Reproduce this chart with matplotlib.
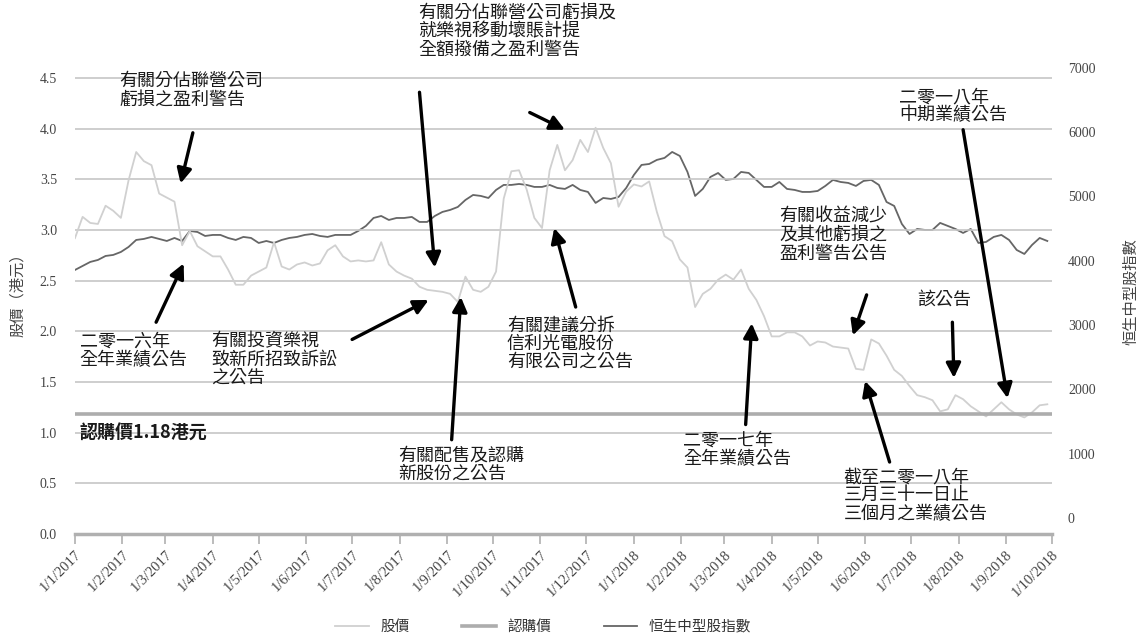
import numpy as np
import pandas as pd
import matplotlib
matplotlib.use("Agg")
import matplotlib.pyplot as plt
from matplotlib.ticker import FormatStrFormatter


plt.rcParams['font.family'] = ['Noto Sans CJK TC', 'DejaVu Sans']

dates = pd.date_range('2017-01-01', periods=128, freq='5D')

# Share price (HK$)
price = [2.92, 3.13, 3.07, 3.06, 3.24, 3.19, 3.12, 3.49, 3.77, 3.68,
         3.64, 3.36, 3.32, 3.28, 2.85, 2.99, 2.84, 2.79, 2.74, 2.74,
         2.61, 2.46, 2.46, 2.55, 2.59, 2.63, 2.88, 2.64, 2.61, 2.66,
         2.68, 2.65, 2.67, 2.80, 2.85, 2.74, 2.69, 2.70, 2.69, 2.70,
         2.88, 2.66, 2.59, 2.55, 2.52, 2.44, 2.41, 2.40, 2.39, 2.37,
         2.29, 2.54, 2.41, 2.39, 2.44, 2.59, 3.31, 3.58, 3.59, 3.40,
         3.12, 3.02, 3.59, 3.84, 3.59, 3.69, 3.89, 3.77, 4.01, 3.81,
         3.66, 3.23, 3.38, 3.45, 3.43, 3.48, 3.18, 2.94, 2.89, 2.71,
         2.63, 2.24, 2.37, 2.42, 2.51, 2.56, 2.51, 2.61, 2.42, 2.31,
         2.15, 1.95, 1.95, 1.99, 1.99, 1.95, 1.86, 1.90, 1.89, 1.85,
         1.84, 1.83, 1.63, 1.62, 1.92, 1.88, 1.76, 1.62, 1.56, 1.46,
         1.37, 1.35, 1.32, 1.21, 1.23, 1.37, 1.33, 1.26, 1.21, 1.16,
         1.23, 1.30, 1.23, 1.18, 1.15, 1.20, 1.27, 1.28]

# Hang Seng Composite MidCap Index
hsmi = [3857, 3920, 3982, 4013, 4075, 4091, 4137, 4215, 4324, 4340,
        4371, 4340, 4308, 4355, 4308, 4464, 4448, 4386, 4402, 4402,
        4355, 4324, 4371, 4355, 4277, 4308, 4277, 4324, 4355, 4371,
        4402, 4417, 4386, 4371, 4402, 4402, 4402, 4464, 4542, 4666,
        4697, 4635, 4666, 4666, 4682, 4604, 4604, 4697, 4760, 4791,
        4837, 4946, 5024, 5009, 4977, 5102, 5180, 5180, 5195, 5180,
        5149, 5149, 5180, 5133, 5118, 5180, 5102, 5071, 4900, 4977,
        4962, 4993, 5133, 5335, 5491, 5506, 5569, 5600, 5693, 5631,
        5382, 5009, 5118, 5304, 5366, 5258, 5273, 5382, 5366, 5258,
        5149, 5149, 5226, 5118, 5102, 5071, 5071, 5086, 5164, 5258,
        5226, 5211, 5164, 5242, 5258, 5180, 4915, 4853, 4573, 4417,
        4495, 4480, 4480, 4589, 4542, 4495, 4433, 4495, 4277, 4293,
        4371, 4402, 4324, 4168, 4106, 4246, 4355, 4308]

subscription_price = 1.18

tick_labels = ['1/1/2017', '1/2/2017', '1/3/2017', '1/4/2017', '1/5/2017',
               '1/6/2017', '1/7/2017', '1/8/2017', '1/9/2017', '1/10/2017',
               '1/11/2017', '1/12/2017', '1/1/2018', '1/2/2018', '1/3/2018',
               '1/4/2018', '1/5/2018', '1/6/2018', '1/7/2018', '1/8/2018',
               '1/9/2018', '1/10/2018']
tick_dates = pd.to_datetime(tick_labels, format='%d/%m/%Y')

# Announcements: text and its top-left anchor (date, price)
notes = [
    ('有關分佔聯營公司\n虧損之盈利警告', '2017-01-30', 4.56),
    ('有關分佔聯營公司虧損及\n就樂視移動壞賬計提\n全額撥備之盈利警告', '2017-08-13', 5.23),
    ('二零一六年\n全年業績公告', '2017-01-04', 1.99),
    ('有關投資樂視\n致新所招致訴訟\n之公告', '2017-03-31', 1.99),
    ('有關配售及認購\n新股份之公告', '2017-07-31', 0.86),
    ('有關建議分拆\n信利光電股份\n有限公司之公告', '2017-10-10', 2.15),
    ('二零一七年\n全年業績公告', '2018-02-02', 1.01),
    ('有關收益減少\n及其他虧損之\n盈利警告公告', '2018-04-06', 3.22),
    ('截至二零一八年\n三月三十一日止\n三個月之業績公告', '2018-05-18', 0.65),
    ('該公告', '2018-07-05', 2.40),
    ('二零一八年\n中期業績公告', '2018-06-23', 4.40),
]
# Arrows: tail (date, price) -> head (date, price)
arrows = [
    ('2017-03-19', 3.96, '2017-03-11', 3.46),
    ('2017-10-25', 4.16, '2017-11-17', 3.99),
    ('2017-08-14', 4.36, '2017-08-24', 2.63),
    ('2017-02-23', 2.09, '2017-03-13', 2.67),
    ('2017-07-01', 1.92, '2017-08-20', 2.31),
    ('2017-09-04', 0.93, '2017-09-10', 2.34),
    ('2017-11-24', 2.24, '2017-11-10', 3.02),
    ('2018-03-15', 1.08, '2018-03-19', 2.08),
    ('2018-06-02', 2.36, '2018-05-24', 1.96),
    ('2018-06-17', 0.71, '2018-06-01', 1.51),
    ('2018-07-28', 2.09, '2018-07-29', 1.54),
    ('2018-08-04', 3.99, '2018-09-02', 1.34),
]


fig = plt.figure(figsize=(11.46, 6.41), dpi=100)
ax = fig.add_axes([0.0654, 0.167, 0.8525, 0.727])
ax2 = ax.twinx()
ax.set_zorder(ax2.get_zorder() + 1)
ax.patch.set_visible(False)

l1, = ax.plot(dates, price, color='#d0d0d0', lw=1.3, label='股價')
l2 = ax.axhline(subscription_price, color='#adadad', lw=2.6, label='認購價')
l3, = ax2.plot(dates, hsmi, color='#666666', lw=1.3, label='恒生中型股指數')

ax.set_xlim(pd.Timestamp('2017-01-01'), pd.Timestamp('2018-10-01'))
ax.set_ylim(0, 4.6)
ax.set_yticks(np.arange(0, 4.51, 0.5))
ax.yaxis.set_major_formatter(FormatStrFormatter('%.1f'))
ax2.set_ylim(-250, 7000)
ax2.set_yticks(np.arange(0, 7001, 1000))

ax.yaxis.grid(True, color='#c6c6c6', lw=1.2)
ax.set_axisbelow(True)
for a in (ax, ax2):
    for s in ('top', 'left', 'right', 'bottom'):
        a.spines[s].set_visible(False)
ax.spines['bottom'].set_visible(True)
ax.spines['bottom'].set_color('#b0b0b0')
ax.spines['bottom'].set_linewidth(2.5)

ax.set_xticks(tick_dates)
ax.set_xticklabels(tick_labels, rotation=45, ha='right', va='top',
                   rotation_mode='anchor')
ax.tick_params(axis='x', direction='out', length=7, width=1.2, color='#b0b0b0',
               labelsize=10.5, labelcolor='#444444', pad=3,
               labelfontfamily='Liberation Serif')
ax.tick_params(axis='y', length=0, pad=13, labelsize=10, labelcolor='#444444',
               labelfontfamily='Liberation Serif')
ax2.tick_params(axis='y', length=0, pad=11.5, labelsize=10, labelcolor='#444444',
                labelfontfamily='Liberation Serif')

ax.set_ylabel('股價（港元）', fontsize=11, color='#444444')
ax.yaxis.set_label_coords(-0.05, 0.52)
ax2.set_ylabel('恒生中型股指數', fontsize=11, color='#444444')
ax2.yaxis.set_label_coords(1.072, 0.52)

for txt, d, v in notes:
    ax.text(pd.Timestamp(d), v, txt, fontsize=13, color='#1a1a1a',
            ha='left', va='top', linespacing=1.02)

for td, tv, hd, hv in arrows:
    ax.annotate('', xy=(pd.Timestamp(hd), hv), xytext=(pd.Timestamp(td), tv),
                arrowprops=dict(arrowstyle='-|>', color='black', lw=2.4,
                                mutation_scale=22, shrinkA=0, shrinkB=0))

ax.text(pd.Timestamp('2017-01-04'), 0.99, '認購價1.18港元', fontsize=13,
        fontweight='bold', color='#1a1a1a', ha='left', va='center')

fig.legend(handles=[l1, l2, l3], loc='center', bbox_to_anchor=(0.474, 0.022),
           ncol=3, frameon=False, fontsize=10.5, handlelength=2.3,
           columnspacing=3.6, labelcolor='#333333')

fig.savefig('out.png', dpi=100)
